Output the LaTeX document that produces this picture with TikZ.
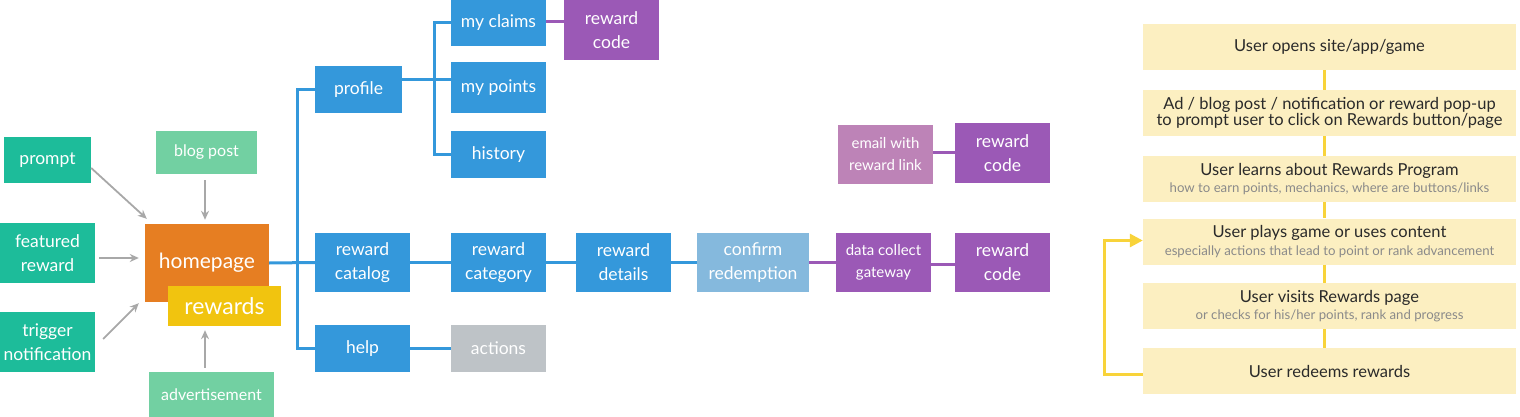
\documentclass[tikz,border=0pt]{standalone}
\usepackage{fontspec}
\setmainfont{Lato}
\usetikzlibrary{arrows.meta,calc}
\definecolor{cteal}{HTML}{1DBC9A}
\definecolor{cgreen}{HTML}{72D0A2}
\definecolor{corange}{HTML}{E67E22}
\definecolor{cyellow}{HTML}{F1C40F}
\definecolor{cblue}{HTML}{3498DB}
\definecolor{cpurple}{HTML}{9B59B6}
\definecolor{clpurple}{HTML}{BD83B7}
\definecolor{clblue}{HTML}{85B9DD}
\definecolor{cgray}{HTML}{BEC3C7}
\definecolor{carrow}{HTML}{A8A8A8}
\definecolor{cpanel}{HTML}{FCEFC1}
\definecolor{cline}{HTML}{F8D33A}
\definecolor{ctitle}{HTML}{2A2A2A}
\definecolor{csub}{HTML}{8A8A8A}
\tikzset{
  box/.style={rectangle, inner sep=0pt, text=white, align=center,
    font=\fontsize{17.5}{24}\selectfont},
  bigbox/.style={box, font=\fontsize{21}{24}\selectfont},
  smallbox/.style={box, font=\fontsize{15}{22}\selectfont},
  panel/.style={rectangle, fill=cpanel, inner sep=0pt, minimum width=373pt,
    minimum height=46pt, align=center, text=ctitle},
  bline/.style={draw=cblue, line width=3pt},
  pline/.style={draw=cpurple, line width=3pt},
  garrow/.style={draw=carrow, line width=1.8pt, -{Stealth[length=9pt,width=8pt]}},
  yline/.style={draw=cline, line width=3pt},
}
\newcommand{\ttl}{\fontsize{16.5}{18}\selectfont}
\newcommand{\sbt}{\fontsize{13.2}{15}\selectfont\color{csub}}
\begin{document}
\begin{tikzpicture}[x=1pt,y=-1pt]
\useasboundingbox (0,0) rectangle (1520,417);
% left sources
\node[box, fill=cteal, minimum width=87pt, minimum height=46pt] (prompt) at (47.5,160) {prompt};
\node[box, fill=cteal, minimum width=95pt, minimum height=60pt] (featured) at (47.5,253) {featured\\reward};
\node[box, fill=cteal, minimum width=95pt, minimum height=60pt] (trigger) at (47.5,342) {trigger\\notification};
\node[smallbox, fill=cgreen, minimum width=101pt, minimum height=43pt, font=\fontsize{16}{20}\selectfont] (blog) at (206.5,152.5) {blog post};
\node[smallbox, fill=cgreen, minimum width=125pt, minimum height=45pt, font=\fontsize{16}{20}\selectfont] (adv) at (211.5,394.5) {advertisement};
% blue tree boxes
\node[box, fill=cblue, minimum width=87pt, minimum height=47pt] (profile) at (358.5,89.5) {profile};
\node[box, fill=cblue, minimum width=95pt, minimum height=46pt] (myclaims) at (498.5,23) {my claims};
\node[box, fill=cblue, minimum width=95pt, minimum height=51pt] (mypoints) at (498.5,87.5) {my points};
\node[box, fill=cblue, minimum width=95pt, minimum height=47pt] (history) at (498.5,154.5) {history};
\node[box, fill=cpurple, minimum width=95pt, minimum height=60pt] (rc1) at (611.5,30) {reward\\code};
\node[box, fill=cblue, minimum width=95pt, minimum height=59pt] (catalog) at (362.5,262.5) {reward\\catalog};
\node[box, fill=cblue, minimum width=95pt, minimum height=59pt] (category) at (498.5,262.5) {reward\\category};
\node[box, fill=cblue, minimum width=95pt, minimum height=59pt] (details) at (623.5,262.5) {reward\\details};
\node[box, fill=cblue, minimum width=95pt, minimum height=47pt] (help) at (362.5,348.5) {help};
\node[box, fill=cgray, minimum width=95pt, minimum height=47pt] (actions) at (498.5,348.5) {actions};
\node[box, fill=clblue, minimum width=112pt, minimum height=59pt] (confirm) at (753,262.5) {confirm\\redemption};
\node[smallbox, fill=cpurple, minimum width=95pt, minimum height=59pt] (gateway) at (883.5,262.5) {data collect\\gateway};
\node[box, fill=cpurple, minimum width=95pt, minimum height=59pt] (rc3) at (1002.5,262.5) {reward\\code};
\node[smallbox, fill=clpurple, minimum width=95pt, minimum height=59pt] (email) at (885.5,154.5) {email with\\reward link};
\node[box, fill=cpurple, minimum width=95pt, minimum height=60pt] (rc2) at (1002.5,153) {reward\\code};
% homepage + rewards
\node[bigbox, fill=corange, minimum width=124pt, minimum height=78pt] (home) at (207,263) {homepage};
\node[bigbox, fill=cyellow, minimum width=113pt, minimum height=40pt, font=\fontsize{23}{24}\selectfont] (rewards) at (224.5,306) {rewards};
% blue connectors
\draw[bline] (home.east) -- (catalog.west);
\draw[bline] (profile.west) -- ++(-17,0) |- (help.west);
\draw[bline] ([yshift=9.5pt]profile.east) -- ([yshift=9.5pt]profile.east -| mypoints.west);
\draw[bline] (myclaims.west) -- ++(-16,0) |- (history.west);
\draw[bline] (catalog.east) -- (category.west);
\draw[bline] (category.east) -- (details.west);
\draw[bline] (details.east) -- (confirm.west);
\draw[bline] (help.east) -- (actions.west);
% purple connectors
\draw[pline] ([yshift=1pt]myclaims.east) -- ([yshift=1pt]myclaims.east -| rc1.west);
\draw[pline] (confirm.east) -- (gateway.west);
\draw[pline] ([yshift=-1.5pt]gateway.east) -- ([yshift=-1.5pt]gateway.east -| rc3.west);
\draw[pline] ([yshift=1pt]rc2.west) -- ([yshift=1pt]rc2.west -| email.east);
% gray arrows
\draw[garrow] ([shift={(0,8)}]prompt.east) -- ([shift={(2,-5)}]home.north west);
\draw[garrow] ([shift={(4,5)}]featured.east) -- ([shift={(-6,-5)}]home.west);
\draw[garrow] ([shift={(8,-3)}]trigger.east) -- ([shift={(-6,1)}]home.south west);
\draw[garrow] ([shift={(-1.5,6)}]blog.south) -- ([shift={(-2,-4)}]home.north);
\draw[garrow] ([shift={(-6.5,-4)}]adv.north) -- ([shift={(-19.5,4)}]rewards.south);
% right panel
\node[panel] (p1) at (1329.5,47) {\ttl User opens site/app/game};
\node[panel] (p2) at (1329.5,113) {\ttl Ad / blog post / notification or reward pop-up\\[-0.5pt]\ttl to prompt user to click on Rewards button/page};
\node[panel] (p3) at (1329.5,179) {\ttl User learns about Rewards Program\\[3pt]\sbt how to earn points, mechanics, where are buttons/links};
\node[panel] (p4) at (1329.5,241.5) {\ttl User plays game or uses content\\[4pt]\sbt especially actions that lead to point or rank advancement};
\node[panel] (p5) at (1329.5,306) {\ttl User visits Rewards page\\[3pt]\sbt or checks for his/her points, rank and progress};
\node[panel] (p6) at (1329.5,371) {\ttl User redeems rewards};
\draw[yline] ([xshift=-5.5pt]p1.south) -- ([xshift=-5.5pt]p2.north);
\draw[yline] ([xshift=-5.5pt]p2.south) -- ([xshift=-5.5pt]p3.north);
\draw[yline] ([xshift=-5.5pt]p3.south) -- ([xshift=-5.5pt]p4.north);
\draw[yline] ([xshift=-5.5pt]p4.south) -- ([xshift=-5.5pt]p5.north);
\draw[yline] ([xshift=-5.5pt]p5.south) -- ([xshift=-5.5pt]p6.north);
\draw[yline, -{Triangle[length=13pt,width=13pt]}] ([yshift=-3pt]p6.west) -- ++(-38,0) |- ([yshift=1pt]p4.west);
\end{tikzpicture}
\end{document}
